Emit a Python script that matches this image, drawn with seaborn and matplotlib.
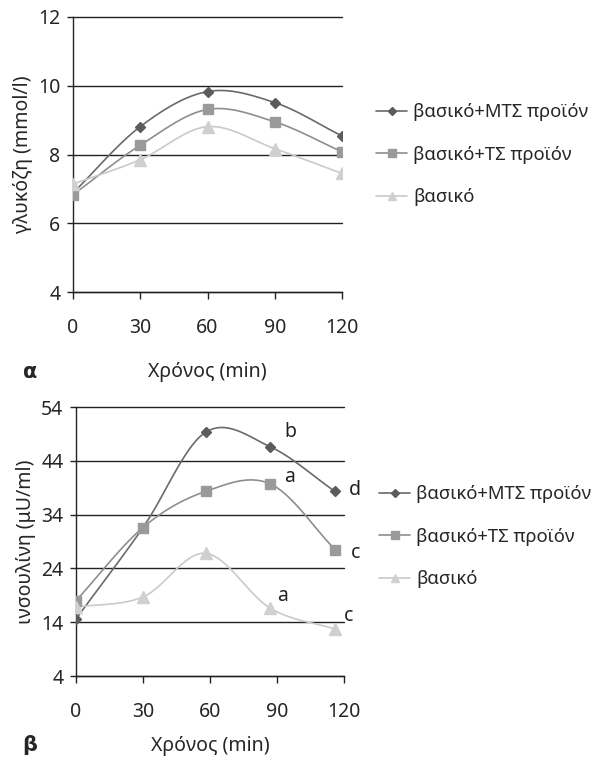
import numpy as np
import pandas as pd
import matplotlib
matplotlib.use("Agg")
import matplotlib.pyplot as plt
from matplotlib.lines import Line2D
import seaborn as sns

# ---------------- data ----------------
series_names = ["βασικό+ΜΤΣ προϊόν", "βασικό+ΤΣ προϊόν", "βασικό"]

glucose_time = [0, 30, 60, 90, 120]
glucose_mts = [6.88, 8.81, 9.83, 9.51, 8.54]
glucose_ts = [6.83, 8.27, 9.31, 8.95, 8.08]
glucose_basal = [7.14, 7.85, 8.81, 8.17, 7.45]

insulin_time = [0, 30, 58, 87, 116]
insulin_mts = [14.6, 31.6, 49.3, 46.6, 38.3]
insulin_ts = [18.0, 31.6, 38.3, 39.7, 27.5]
insulin_basal = [16.8, 18.7, 26.8, 16.6, 12.7]

xtick_labels = ["0", "30", "60", "90", "120"]
glucose_yticks = [4, 6, 8, 10, 12]
insulin_yticks = [4, 14, 24, 34, 44, 54]

sig_letters = ["b", "a", "d", "c", "a", "c"]
sig_x = [96, 95.5, 125, 125, 92.7, 122]
sig_y = [49.4, 41.0, 38.6, 26.9, 18.9, 15.2]

# ---------------- style ----------------
sns.set_theme(style="white")
plt.rcParams["font.family"] = ["Noto Sans", "DejaVu Sans"]

line_colors = ["#6a6a6a", "#8e8e8e", "#cacaca"]
marker_colors = ["#5c5c5c", "#9a9a9a", "#d0d0d0"]
markers = ["D", "s", "^"]
msizes = [5.5, 7.5, 8.5]
FS = 14
LFS = 13.3


def catmull_rom(x, y, n=30):
    x = np.asarray(x, float)
    y = np.asarray(y, float)
    P = np.column_stack([x, y])
    P = np.vstack([P[0] - (P[1] - P[0]), P, P[-1] + (P[-1] - P[-2])])
    out = []
    for i in range(1, len(P) - 2):
        p0, p1, p2, p3 = P[i - 1], P[i], P[i + 1], P[i + 2]
        t = np.linspace(0, 1, n)[:, None]
        seg = 0.5 * ((2 * p1) + (-p0 + p2) * t + (2 * p0 - 5 * p1 + 4 * p2 - p3) * t ** 2
                     + (-p0 + 3 * p1 - 3 * p2 + p3) * t ** 3)
        out.append(seg if i == 1 else seg[1:])
    out = np.vstack(out)
    return out[:, 0], out[:, 1]


def draw_panel(ax, t, series, yticks, ylabel, xlabelpad):
    for k, ys in enumerate(series):
        sx, sy = catmull_rom(t, ys)
        sns.lineplot(x=sx, y=sy, ax=ax, color=line_colors[k], lw=1.2,
                     sort=False, estimator=None, legend=False)
        ax.plot(t, ys, linestyle="none", marker=markers[k], ms=msizes[k],
                color=marker_colors[k], mec=marker_colors[k], zorder=4)
    ax.set_xlim(0, 120)
    ax.set_ylim(yticks[0], yticks[-1])
    ax.set_xticks([0, 30, 60, 90, 120])
    ax.set_xticklabels(xtick_labels, fontsize=FS)
    ax.set_yticks(yticks)
    ax.set_yticklabels([str(v) for v in yticks], fontsize=FS)
    for v in yticks:
        ax.axhline(v, color="#222222", lw=1.0, zorder=1, clip_on=False)
    for s in ["top", "right"]:
        ax.spines[s].set_visible(False)
    ax.spines["left"].set_color("#222222")
    ax.spines["bottom"].set_color("#222222")
    ax.spines["left"].set_linewidth(1.0)
    ax.spines["bottom"].set_linewidth(1.0)
    ax.tick_params(axis="x", direction="out", length=5, width=1, color="#222222",
                   pad=14, bottom=True)
    ax.tick_params(axis="y", direction="out", length=4, width=1, color="#222222",
                   pad=5, left=True)
    ax.set_ylabel(ylabel, fontsize=FS, labelpad=4)
    ax.set_xlabel("Χρόνος (min)", fontsize=FS, labelpad=xlabelpad)
    ax.set_facecolor("white")


fig = plt.figure(figsize=(5.96, 7.63), dpi=100)
fig.patch.set_facecolor("white")

ax1 = fig.add_axes([73 / 596, 1 - 292 / 763, 269 / 596, 275 / 763])
ax2 = fig.add_axes([76 / 596, 1 - 676 / 763, 268 / 596, 269 / 763])

draw_panel(ax1, glucose_time, [glucose_mts, glucose_ts, glucose_basal],
           glucose_yticks, "γλυκόζη (mmol/l)", 17)
draw_panel(ax2, insulin_time, [insulin_mts, insulin_ts, insulin_basal],
           insulin_yticks, "ινσουλίνη (μU/ml)", 10)

for s, xx, yy in zip(sig_letters, sig_x, sig_y):
    ax2.text(xx, yy, s, fontsize=FS, ha="center", va="center", color="#222222",
             clip_on=False)

handles = [Line2D([0], [0], color=line_colors[k], lw=1.2, marker=markers[k],
                  ms=msizes[k] * 0.7, mfc=marker_colors[k], mec=marker_colors[k])
           for k in range(3)]

for anchor in [(376 / 596, 1 - 103 / 763), (379 / 596, 1 - 485 / 763)]:
    fig.legend(handles, series_names, loc="upper left", bbox_to_anchor=anchor,
               frameon=False, fontsize=LFS, handlelength=1.7, handletextpad=0.3,
               labelspacing=1.33, borderpad=0, borderaxespad=0)

fig.text(30 / 596, 1 - 372 / 763, "α", fontsize=FS + 1, fontweight="bold",
         family="DejaVu Sans", ha="center", va="center")
fig.text(30 / 596, 1 - 745 / 763, "β", fontsize=FS + 1, fontweight="bold",
         family="DejaVu Sans", ha="center", va="center")

fig.savefig("out.png", dpi=100, facecolor="white")
